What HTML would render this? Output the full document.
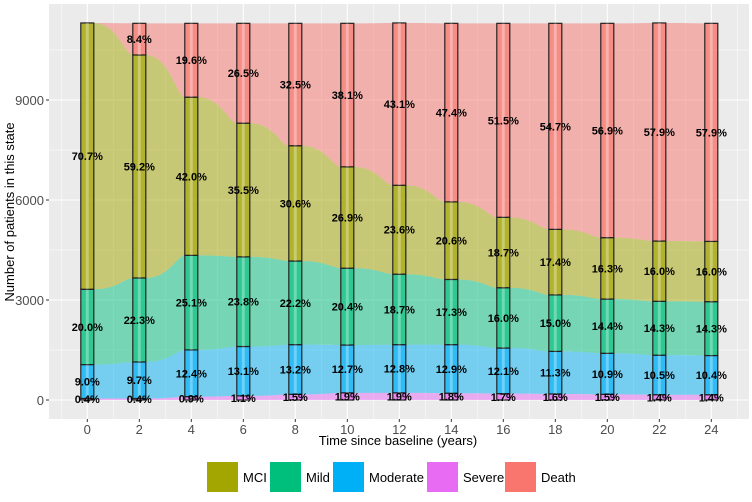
<!DOCTYPE html>
<html><head><meta charset="utf-8"><style>
body{margin:0;background:#fff;font-family:"Liberation Sans",Arial,sans-serif}
svg text{font-family:"Liberation Sans",Arial,sans-serif}
</style></head><body>
<svg id="c" width="752" height="497" xmlns="http://www.w3.org/2000/svg">
<rect x="49" y="4" width="700" height="415" fill="#ebebeb"/>
<g id="grid"></g><g id="ribbons"></g><g id="bars"></g><g id="axes"></g>
<text x="398" y="445" text-anchor="middle" font-size="13" fill="#000">Time since baseline (years)</text>
<text transform="translate(14,212) rotate(-90)" text-anchor="middle" font-size="13" fill="#000">Number of patients in this state</text>
<g id="legend"></g>
</svg>
<script>
const times=[0,2,4,6,8,10,12,14,16,18,20,22,24];
const states=["Severe","Moderate","Mild","MCI","Death"];
const severe=[0.4,0.4,0.9,1.1,1.5,1.9,1.9,1.8,1.7,1.6,1.5,1.4,1.4];
const moderate=[9.0,9.7,12.4,13.1,13.2,12.7,12.8,12.9,12.1,11.3,10.9,10.5,10.4];
const mild=[20.0,22.3,25.1,23.8,22.2,20.4,18.7,17.3,16.0,15.0,14.4,14.3,14.3];
const mci=[70.7,59.2,42.0,35.5,30.6,26.9,23.6,20.6,18.7,17.4,16.3,16.0,16.0];
const death=[0,8.4,19.6,26.5,32.5,38.1,43.1,47.4,51.5,54.7,56.9,57.9,57.9];
const yTicks=[0,3000,6000,9000];
const totalN=11300;
const colors={Severe:"#E76BF3",Moderate:"#00B0F6",Mild:"#00BF7D",MCI:"#A3A500",Death:"#F8766D"};
const series=[severe,moderate,mild,mci,death];
const NS="http://www.w3.org/2000/svg";
const xS=t=>87.3+t*26;
const yS=v=>400-v/30;
const hw=6.5;
function mk(tag,attrs,parent){const e=document.createElementNS(NS,tag);for(const k in attrs)e.setAttribute(k,attrs[k]);parent.appendChild(e);return e;}
const grid=document.getElementById('grid'),rib=document.getElementById('ribbons'),bars=document.getElementById('bars'),axes=document.getElementById('axes'),leg=document.getElementById('legend');
for(let t=-1;t<=25;t+=1){const l=mk('line',{x1:xS(t),x2:xS(t),y1:4,y2:419,stroke:'#fff','stroke-width':t%2===0?1.1:0.5},grid);}
for(let v=-1500;v<=12000;v+=1500){const y=yS(v);if(y<4||y>419)continue;const l=mk('line',{x1:49,x2:749,y1:y,y2:y,stroke:'#fff','stroke-width':v%3000===0?1.1:0.5},grid);}
const bounds=times.map((t,i)=>{let acc=0;return series.map(s=>{const lo=acc;acc+=s[i];return [lo,acc];});});
const toY=p=>yS(p/100*totalN);
for(let i=0;i<times.length-1;i++){
  const x0=xS(times[i])+hw,x1=xS(times[i+1])-hw,w=x1-x0;
  const c1=x0+0.6*w,c2=x0+0.8*w;
  series.forEach((s,k)=>{
    const a=bounds[i][k],b=bounds[i+1][k];
    const a0=toY(a[0]),a1=toY(a[1]),b0=toY(b[0]),b1=toY(b[1]);
    const d=`M${x0},${a1} C${c1},${a1} ${c2},${b1} ${x1},${b1} L${x1},${b0} C${c2},${b0} ${c1},${a0} ${x0},${a0} Z`;
    const p=mk('path',{d:d,fill:colors[states[k]],'fill-opacity':0.5,stroke:'none'},rib);
    
    
  });
}
times.forEach((t,i)=>{
  series.forEach((s,k)=>{
    const [lo,hi]=bounds[i][k];
    const y1=toY(hi),y0=toY(lo);
    if(hi-lo<=0)return;
    const r=mk('rect',{x:xS(t)-hw,y:y1,width:hw*2,height:y0-y1,fill:colors[states[k]],'fill-opacity':0.8,stroke:'#222','stroke-width':1.2},bars);
    
    
    const st=mk('rect',{x:xS(t)-1.5,y:y1,width:3,height:y0-y1,fill:'#fff','fill-opacity':0.3},bars);
    
    
  });
});
times.forEach((t,i)=>{
  series.forEach((s,k)=>{
    const [lo,hi]=bounds[i][k];
    if(s[i]<=0)return;
    const tx=mk('text',{x:xS(t),y:(toY(lo)+toY(hi))/2+4,'text-anchor':'middle','font-size':11,'font-weight':'bold',fill:'#000'},bars);
    tx.textContent=s[i].toFixed(1)+'%';
    
    
  });
});
times.forEach(t=>{
  const l=mk('line',{x1:xS(t),x2:xS(t),y1:419,y2:422,stroke:'#333'},axes);
  const tx=mk('text',{x:xS(t),y:434,'text-anchor':'middle','font-size':13,fill:'#4d4d4d'},axes);tx.textContent=t;
  
});
yTicks.forEach(v=>{
  const l=mk('line',{x1:46,x2:49,y1:yS(v),y2:yS(v),stroke:'#333'},axes);
  const tx=mk('text',{x:44,y:yS(v)+5,'text-anchor':'end','font-size':13,fill:'#4d4d4d'},axes);tx.textContent=v;
  
});
const legendItems=["MCI","Mild","Moderate","Severe","Death"];
const legX=[207,270,333,427,505];
legendItems.forEach((n,i)=>{
  const r=mk('rect',{x:legX[i],y:462,width:31,height:30,fill:colors[n]},leg);
  
  const tx=mk('text',{x:legX[i]+36,y:482,'font-size':13,fill:'#000'},leg);tx.textContent=n;
  
});
</script>
</body></html>
